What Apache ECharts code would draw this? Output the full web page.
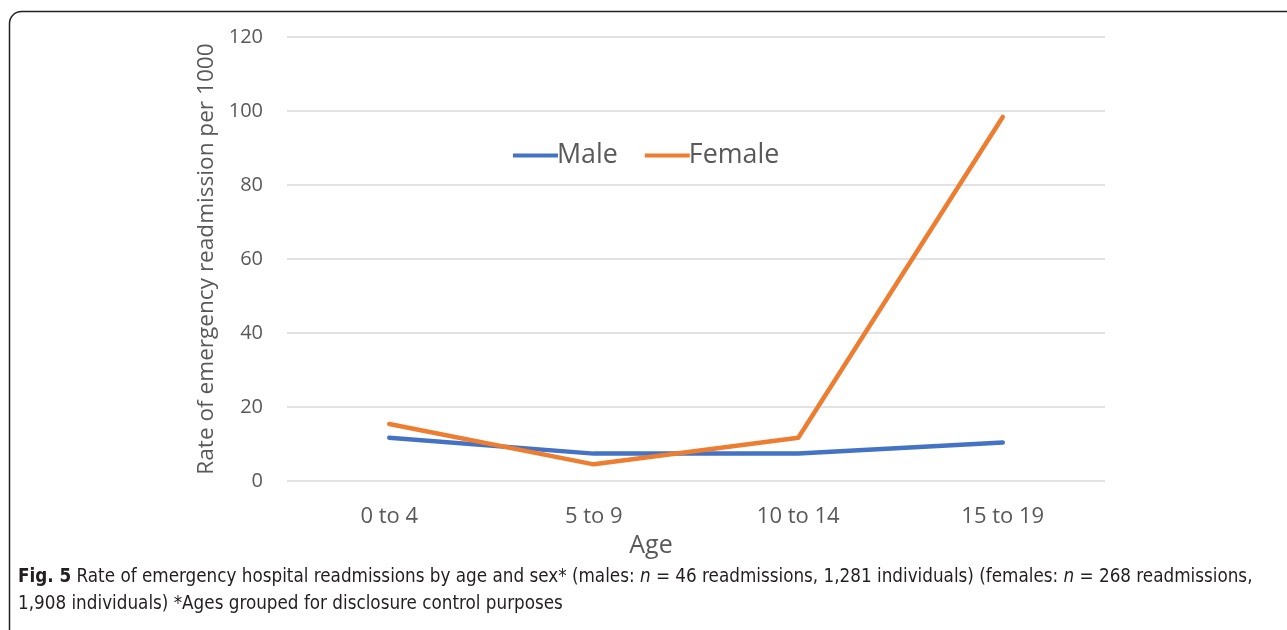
<!DOCTYPE html>
<html><head><meta charset="utf-8">
<script src="https://cdn.jsdelivr.net/npm/echarts@6/dist/echarts.min.js"></script>
<style>html,body{margin:0;padding:0;background:#fff}#c{width:1287px;height:630px}</style>
</head><body><div id="c"></div>
<script>
const categories = ['0 to 4', '5 to 9', '10 to 14', '15 to 19'];
const maleValues = [11.7, 7.4, 7.4, 10.4];
const femaleValues = [15.4, 4.5, 11.7, 98.4];
const yTicks = { min: 0, max: 120, interval: 20 };
const seriesNames = ['Male', 'Female'];
const captionBold = 'Fig. 5';
const captionLine1 = ' Rate of emergency hospital readmissions by age and sex* (males: ';
const captionLine1b = ' = 46 readmissions, 1,281 individuals) (females: ';
const captionLine1c = ' = 268 readmissions,';
const captionLine2 = '1,908 individuals) *Ages grouped for disclosure control purposes';

const chart = echarts.init(document.getElementById('c'), null, {renderer: 'canvas'});
const axisFont = '"Open Sans", "Noto Sans", sans-serif';
const capFont = '"Liberation Sans Narrow", "DejaVu Sans Condensed", "Liberation Sans", sans-serif';
chart.setOption({
  animation: false,
  backgroundColor: '#fff',
  grid: { left: 287, right: 182, top: 37, bottom: 149 },
  legend: {
    data: seriesNames,
    left: 508, top: 137,
    itemWidth: 45, itemHeight: 4, itemGap: 27,
    icon: 'rect',
    textStyle: { fontFamily: axisFont, fontSize: 26.8, color: '#595959', padding: [0,0,0,-6] }
  },
  xAxis: {
    type: 'category', data: categories,
    boundaryGap: true,
    axisLine: { show: false }, axisTick: { show: false },
    axisLabel: { fontFamily: axisFont, fontSize: 22, color: '#595959', margin: 25 },
    name: 'Age', nameLocation: 'middle', nameGap: 52,
    nameTextStyle: { fontFamily: axisFont, fontSize: 25, color: '#595959', padding: [0, 90, 0, 0] }
  },
  yAxis: {
    type: 'value', min: yTicks.min, max: yTicks.max, interval: yTicks.interval,
    axisLine: { show: false }, axisTick: { show: false },
    splitLine: { lineStyle: { color: '#d9d9d9', width: 1.5 } },
    axisLabel: { fontFamily: axisFont, fontSize: 20, color: '#595959', margin: 24 },
    name: 'Rate of emergency readmission per 1000', nameLocation: 'middle', nameGap: 63,
    nameTextStyle: { fontFamily: axisFont, fontSize: 22.6, color: '#595959' }
  },
  series: [
    { name: seriesNames[0], type: 'line', data: maleValues, symbol: 'none',
      lineStyle: { color: '#4472C4', width: 4.5, cap: 'round', join: 'round' }, itemStyle: { color: '#4472C4' } },
    { name: seriesNames[1], type: 'line', data: femaleValues, symbol: 'none',
      lineStyle: { color: '#ED7D31', width: 4.5, cap: 'round', join: 'round' }, itemStyle: { color: '#ED7D31' } }
  ],
  graphic: [
    { type: 'rect', shape: { x: 9.5, y: 11.5, width: 1300, height: 640, r: 12 },
      style: { fill: null, stroke: '#231f20', lineWidth: 1.5 }, silent: true },
    { type: 'text', left: 18, top: 568,
      style: {
        text: '{b|' + captionBold + '}{n|' + captionLine1 + '}{i|n}{n|' + captionLine1b + '}{i|n}{n|' + captionLine1c + '}\n{n|' + captionLine2 + '}',
        rich: {
          b: { fontFamily: capFont, fontWeight: 'bold', fontSize: 18.7, fill: '#231f20', lineHeight: 26.5 },
          n: { fontFamily: capFont, fontSize: 18.7, fill: '#231f20', lineHeight: 26.5 },
          i: { fontFamily: capFont, fontStyle: 'italic', fontSize: 18.7, fill: '#231f20', lineHeight: 26.5 }
        }
      } }
  ]
});
</script></body></html>
